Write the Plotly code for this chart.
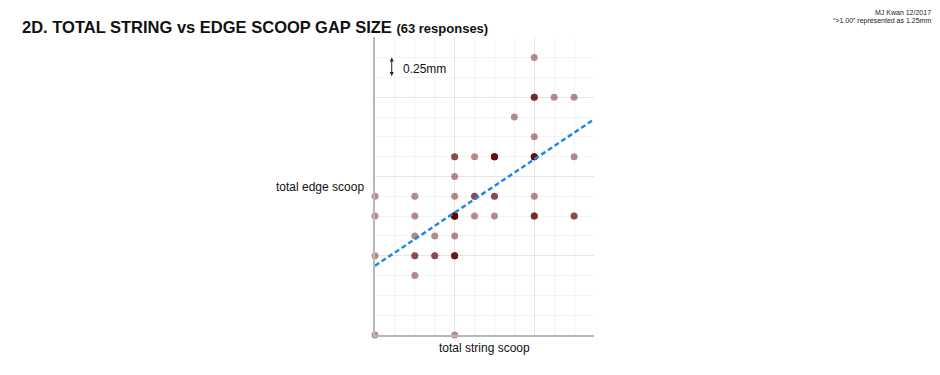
import numpy as np
import plotly.graph_objects as go

# distinct (string scoop, edge scoop) pairs and how many responses gave each
string_scoop = [2.0, 2.0, 2.25, 2.5, 1.75, 2.0, 1.0, 1.25, 1.5, 2.0, 2.5, 1.0,
                0.0, 0.5, 1.0, 1.25, 1.5, 2.0,
                0.0, 0.5, 1.0, 1.25, 1.5, 2.0, 2.5,
                0.5, 0.75, 1.0,
                0.0, 0.5, 0.75, 1.0,
                0.5, 0.0, 1.0]
edge_scoop = [3.5, 3.0, 3.0, 3.0, 2.75, 2.5, 2.25, 2.25, 2.25, 2.25, 2.25, 2.0,
              1.75, 1.75, 1.75, 1.75, 1.75, 1.75,
              1.5, 1.5, 1.5, 1.5, 1.5, 1.5, 1.5,
              1.25, 1.25, 1.25,
              1.0, 1.0, 1.0, 1.0,
              0.75, 0.0, 0.0]
responses = [1, 3, 1, 1, 1, 1, 2, 1, 5, 5, 1, 1,
             1, 1, 1, 2, 2, 1,
             1, 1, 8, 1, 1, 3, 2,
             1, 1, 1,
             1, 2, 2, 4,
             1, 1, 1]

xs = np.repeat(np.array(string_scoop), responses)
ys = np.repeat(np.array(edge_scoop), responses)
slope, intercept = np.polyfit(xs, ys, 1)
x_line = np.array([0.0, 2.75])
y_line = intercept + slope * x_line

fig = go.Figure()
fig.add_trace(go.Scatter(
    x=xs, y=ys, mode="markers",
    marker=dict(size=7, color="rgb(95,0,0)", opacity=0.45, line=dict(width=0)),
    hoverinfo="skip", showlegend=False, cliponaxis=False))
fig.add_trace(go.Scatter(
    x=x_line, y=y_line, mode="lines",
    line=dict(color="rgb(30,136,229)", width=2.5, dash="5px,3px"),
    hoverinfo="skip", showlegend=False, cliponaxis=False))

fig.update_layout(
    width=940, height=375,
    margin=dict(l=375, r=346, t=37, b=40),
    paper_bgcolor="white", plot_bgcolor="white",
    font=dict(family="Liberation Sans, Arial, sans-serif", color="#111"),
    xaxis=dict(range=[0, 2.75], showticklabels=False, ticks="",
               showgrid=True, gridcolor="#e6e6e6", gridwidth=1, dtick=1,
               minor=dict(showgrid=True, gridcolor="#f4f4f4", dtick=0.25),
               showline=True, linecolor="#b8b8b8", linewidth=1.5,
               zeroline=False, fixedrange=True),
    yaxis=dict(range=[0, 3.76], showticklabels=False, ticks="",
               showgrid=True, gridcolor="#e6e6e6", gridwidth=1, dtick=1,
               minor=dict(showgrid=True, gridcolor="#f4f4f4", dtick=0.25),
               showline=True, linecolor="#b8b8b8", linewidth=1.5,
               zeroline=False, fixedrange=True),
    annotations=[
        dict(xref="x", yref="y", x=0.21, y=3.5, ax=0.21, ay=3.25,
             axref="x", ayref="y", text="", showarrow=True,
             arrowhead=2, arrowside="end+start", arrowsize=0.8,
             arrowwidth=1, arrowcolor="#222", startarrowhead=2, startarrowsize=0.8),
        dict(xref="x", yref="y", x=0.33, y=3.36, xanchor="left", yanchor="middle",
             text="0.25mm", showarrow=False, font=dict(size=12, color="#111")),
    ],
)

# titles and notes in pixel-based paper coordinates
pw = 940 - 375 - 346
ph = 375 - 37 - 40
def px(xp):
    return (xp - 375) / pw
def py(yp):
    return (375 - 40 - yp) / ph

fig.add_annotation(xref="paper", yref="paper", x=px(20), y=py(27),
                   xanchor="left", yanchor="middle", showarrow=False,
                   text="<b>2D. TOTAL STRING vs EDGE SCOOP GAP SIZE</b> <b><span style='font-size:13px'>(63 responses)</span></b>",
                   font=dict(size=16.5, color="#111"))
fig.add_annotation(xref="paper", yref="paper", x=px(933), y=py(12),
                   xanchor="right", yanchor="middle", showarrow=False,
                   text="MJ Kwan 12/2017", font=dict(size=7, color="#222"))
fig.add_annotation(xref="paper", yref="paper", x=px(933), y=py(21),
                   xanchor="right", yanchor="middle", showarrow=False,
                   text="\u201c>1.00\u201d represented as 1.25mm", font=dict(size=7, color="#222"))
fig.add_annotation(xref="paper", yref="paper", x=px(366), y=py(187),
                   xanchor="right", yanchor="middle", showarrow=False,
                   text="total edge scoop", font=dict(size=12, color="#111"))
fig.add_annotation(xref="paper", yref="paper", x=px(484), y=py(348),
                   xanchor="center", yanchor="middle", showarrow=False,
                   text="total string scoop", font=dict(size=12, color="#111"))

fig.write_html("out.html")
